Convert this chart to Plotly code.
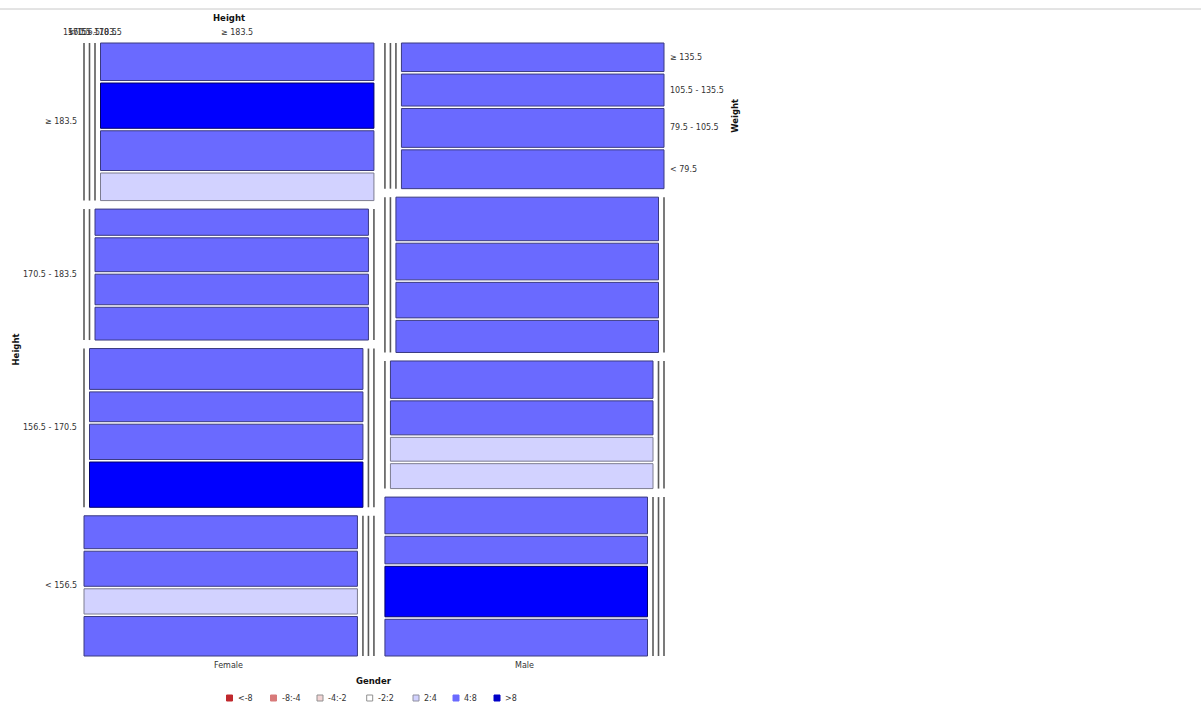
import plotly.graph_objects as go

# ---- data -----------------------------------------------------------------
genders = ["Female", "Male"]
height_bins = ["< 156.5", "156.5 - 170.5", "170.5 - 183.5", "≥ 183.5"]
weight_bins = ["< 79.5", "79.5 - 105.5", "105.5 - 135.5", "≥ 135.5"]

# counts[height][weight], both in ascending bin order
female_counts = [
    [36, 23, 32, 30],
    [41, 32, 27, 37],
    [30, 28, 31, 24],
    [25, 36, 41, 34],
]
male_counts = [
    [32, 44, 24, 32],
    [22, 21, 30, 33],
    [28, 31, 32, 38],
    [34, 34, 28, 25],
]

# standardized Pearson residuals, same layout as the counts
female_resid = [
    [7.3, 3.6, 6.5, 5.9],
    [8.4, 6.2, 5.1, 7.0],
    [5.8, 5.3, 5.9, 4.6],
    [3.1, 6.4, 8.6, 6.0],
]
male_resid = [
    [6.1, 8.7, 4.5, 5.9],
    [3.8, 3.5, 5.6, 6.2],
    [5.2, 5.7, 6.0, 7.1],
    [6.9, 6.8, 5.4, 4.8],
]

legend_labels = ["<-8", "-8:-4", "-4:-2", "-2:2", "2:4", "4:8", ">8"]
legend_fill = ["#c0282d", "#d87a7a", "#f2d4d4", "#ffffff", "#d2d2ff", "#6a6aff", "#0000c8"]
legend_edge = ["#c0282d", "#d87a7a", "#909090", "#909090", "#9090a0", "#6a6aff", "#0000c8"]

# ---- styling --------------------------------------------------------------
W, H = 1201, 708
X0, X1 = 84.0, 664.0          # mosaic extent
Y0, Y1 = 43.0, 656.0
GAP_GENDER = 11.0
GAP_ROW = 8.5
GAP_COL = 5.5
GAP_WEIGHT = 2.5
FONT = "DejaVu Sans"
TXT = "#333333"


def residual_style(r):
    if r < -8:
        return "#c0282d", "#7a1518"
    if r < -4:
        return "#d87a7a", "#8a4040"
    if r < -2:
        return "#f2d4d4", "#8a7070"
    if r <= 2:
        return "#ffffff", "#808080"
    if r <= 4:
        return "#d2d2ff", "#7c7c90"
    if r <= 8:
        return "#6a6aff", "#3a3a80"
    return "#0000ff", "#00006a"


shapes = []
annotations = []


def add_text(x, y, text, xanchor="center", bold=False, size=8, angle=0, color=TXT):
    annotations.append(dict(
        x=x, y=y, xref="x", yref="y", text=f"<b>{text}</b>" if bold else text,
        showarrow=False, xanchor=xanchor, yanchor="middle", textangle=angle,
        font=dict(family=FONT, size=size, color=color),
    ))


# separator line across the top of the view
shapes.append(dict(type="line", xref="paper", yref="y", x0=0, x1=1, y0=9, y1=9,
                   line=dict(color="#c8c8c8", width=1)))

all_counts = [female_counts, male_counts]
all_resid = [female_resid, male_resid]
totals = [sum(sum(r) for r in c) for c in all_counts]
grand = sum(totals)

n_h = len(height_bins)
n_w = len(weight_bins)
col_space = (X1 - X0) - GAP_GENDER * (len(genders) - 1)
row_space = (Y1 - Y0) - GAP_ROW * (n_h - 1)

gx = X0
female_layout = None
for gi, g in enumerate(genders):
    counts = all_counts[gi]
    resid = all_resid[gi]
    gw = col_space * totals[gi] / grand
    rect_w = gw - GAP_COL * (n_h - 1)

    y = Y0
    row_centres = []
    # highest height bin on top
    for hi in reversed(range(n_h)):
        row_n = sum(counts[hi])
        rh = row_space * row_n / totals[gi]
        # horizontal split by height: only the matching bin has width
        cx = gx
        col_pos = []
        for hj in range(n_h):
            if hj == hi:
                col_pos.append((cx, cx + rect_w))
                rx0, rx1 = cx, cx + rect_w
                cx += rect_w + GAP_COL
            else:
                col_pos.append((cx, cx))
                shapes.append(dict(type="line", xref="x", yref="y", x0=cx, x1=cx,
                                   y0=y, y1=y + rh, line=dict(color="#5a5a5a", width=1.6)))
                cx += GAP_COL
        if gi == 0 and hi == n_h - 1:
            female_layout = col_pos

        # vertical split by weight, heaviest on top
        wy = y
        inner = rh - GAP_WEIGHT * (n_w - 1)
        cell_centres = []
        for wi in reversed(range(n_w)):
            ch = inner * counts[hi][wi] / row_n
            fill, edge = residual_style(resid[hi][wi])
            shapes.append(dict(type="rect", xref="x", yref="y", x0=rx0, x1=rx1,
                               y0=wy, y1=wy + ch, fillcolor=fill,
                               line=dict(color=edge, width=1)))
            cell_centres.append((wi, wy + ch / 2))
            wy += ch + GAP_WEIGHT

        row_centres.append((hi, y + rh / 2))
        # weight labels beside the top row of the right-hand column
        if gi == len(genders) - 1 and hi == n_h - 1:
            for wi, cy in cell_centres:
                add_text(gx + gw + 4, cy, weight_bins[wi], xanchor="left")
            add_text(gx + gw + 71, y + rh / 2, "Weight", bold=True, angle=-90, size=8.5, color="#111")
        y += rh + GAP_ROW

    # row labels on the left of the first column
    if gi == 0:
        for hi, cy in row_centres:
            add_text(gx - 5, cy, height_bins[hi], xanchor="right")

    add_text(gx + gw / 2, 665, g)
    gx += gw + GAP_GENDER

# column labels above the first column (third-level height split)
for hj, (a, b) in enumerate(female_layout):
    add_text((a + b) / 2, 32, height_bins[hj])
add_text((X0 + female_layout[-1][1]) / 2, 18, "Height", bold=True, size=8.5, color="#111")

add_text(15, (Y0 + Y1) / 2, "Height", bold=True, angle=-90, size=8.5, color="#111")
add_text((X0 + X1) / 2, 681, "Gender", bold=True, size=8.5, color="#111")

# legend row
legend_x = [229.5, 273.5, 320, 369.7, 416, 456, 497]
for lx, lab, fc, ec in zip(legend_x, legend_labels, legend_fill, legend_edge):
    shapes.append(dict(type="rect", xref="x", yref="y", x0=lx - 3, x1=lx + 3,
                       y0=695, y1=701, fillcolor=fc, line=dict(color=ec, width=1)))
    add_text(lx + 6, 698, lab, xanchor="left")

fig = go.Figure()
fig.add_trace(go.Scatter(x=[0, W], y=[0, H], mode="markers",
                         marker=dict(opacity=0), hoverinfo="skip", showlegend=False))
fig.update_layout(
    width=W, height=H,
    margin=dict(l=0, r=0, t=0, b=0),
    paper_bgcolor="white", plot_bgcolor="white",
    xaxis=dict(range=[0, W], visible=False, fixedrange=True),
    yaxis=dict(range=[H, 0], visible=False, fixedrange=True),
    shapes=shapes, annotations=annotations, showlegend=False,
)
fig.write_html("out.html")
